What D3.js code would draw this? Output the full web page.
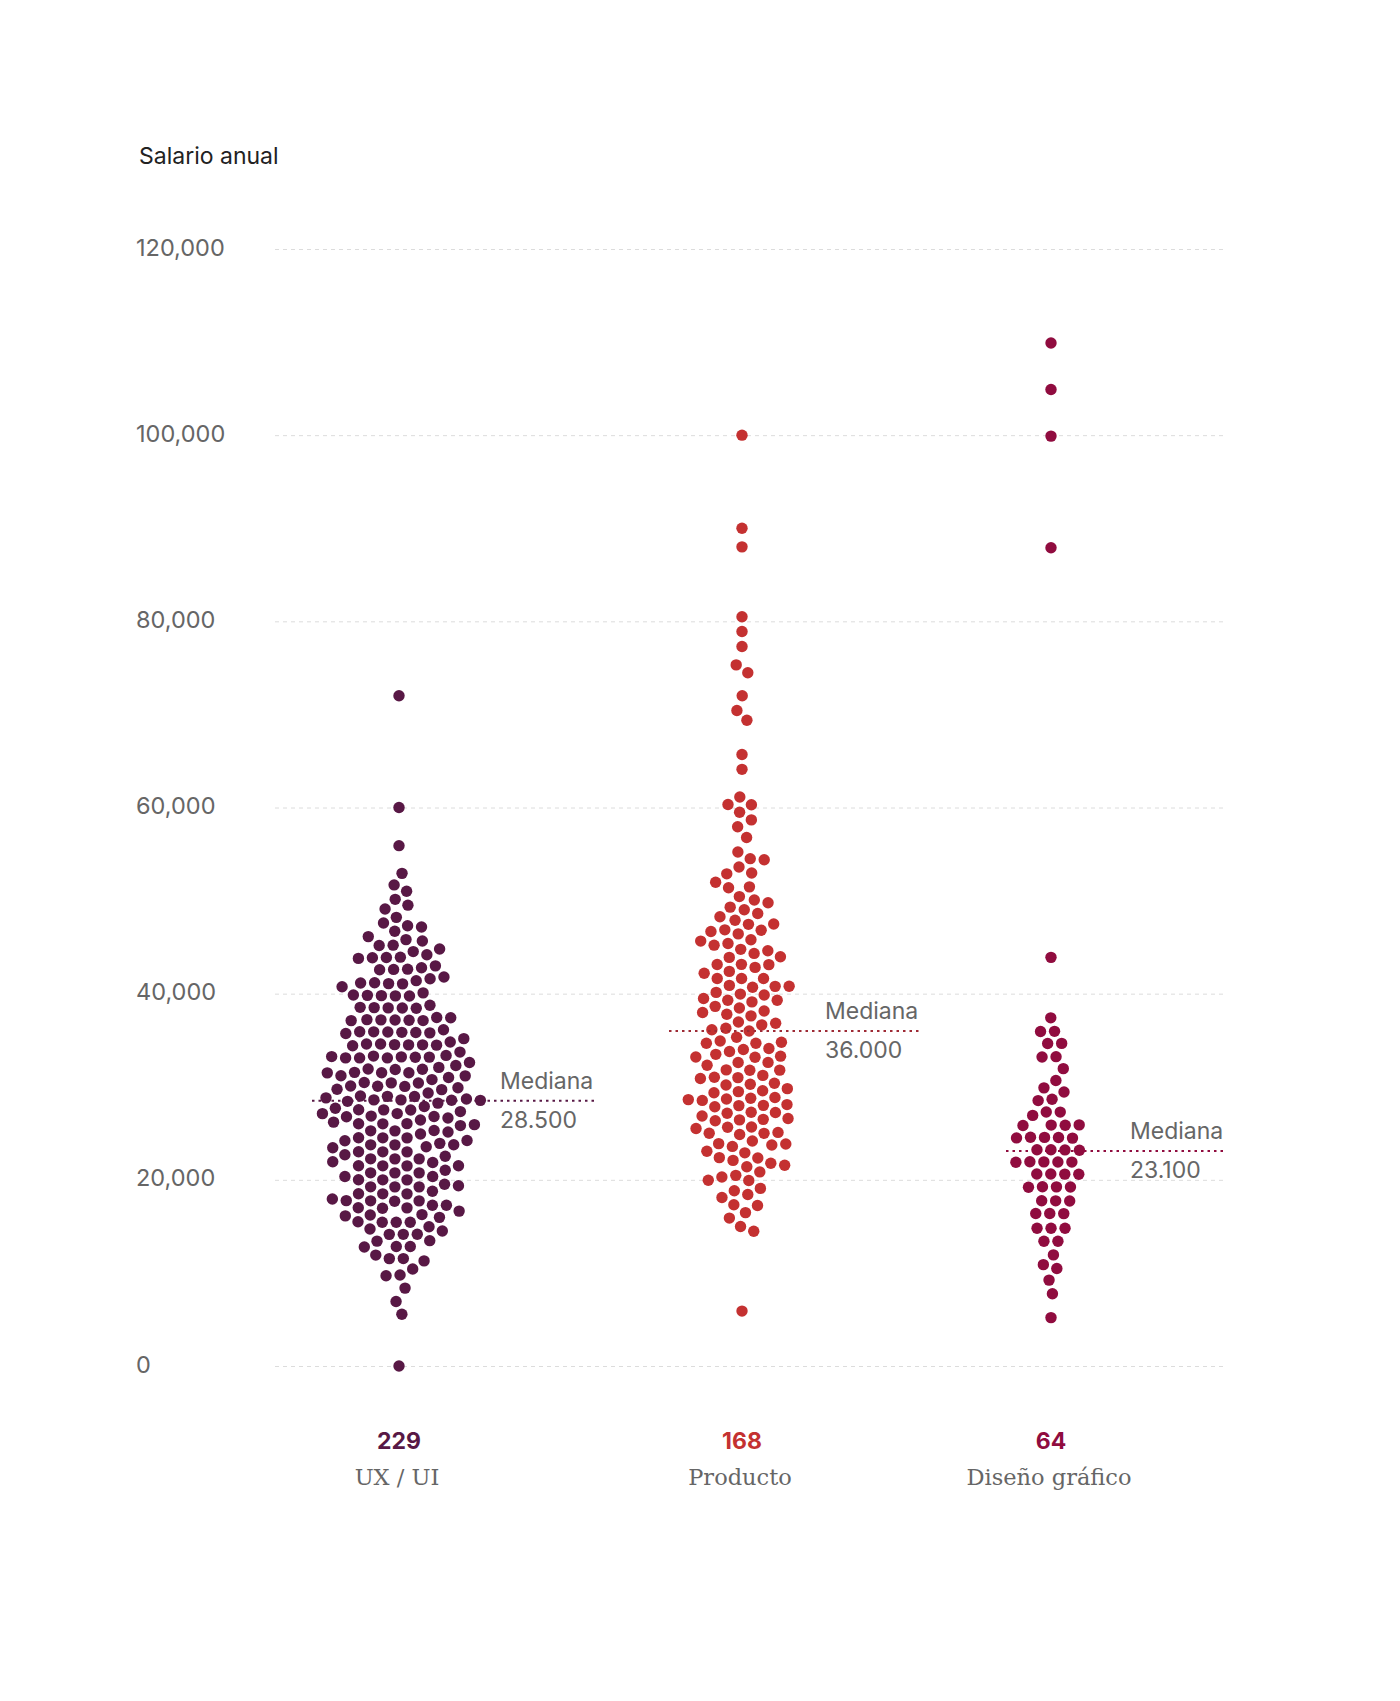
<!DOCTYPE html>
<html><head><meta charset="utf-8">
<script src="https://cdn.jsdelivr.net/npm/d3@7"></script>
<style>body{margin:0;background:#fff} svg{display:block}</style>
</head><body><svg id="chart" width="1400" height="1701"></svg>
<script>
// ---------- DATA ----------
const categories = ["UX / UI", "Producto", "Diseño gráfico"];
const counts = [229, 168, 64];
const medians = [28500, 36000, 23100];
const medianLabels = ["28.500", "36.000", "23.100"];
const yTicks = [0, 20000, 40000, 60000, 80000, 100000, 120000];
const yTitle = "Salario anual";

const uxValues = [
72000,60000,55900,52900,51700,50800,50100,49700,49100,48000,47600,47200,46900,46500,46000,
45800,45800,45300,45000,44700,44500,44200,44200,43800,43700,43400,43100,43100,42700,42700,
42400,42000,41800,41600,41300,41100,40800,40500,40500,40100,40100,39700,39700,39300,39000,
39000,38600,38600,38200,38200,37900,37500,37500,37300,37000,37000,37000,36700,36700,36300,
35900,35900,35600,35600,35600,35300,35300,34800,34500,34500,34500,34300,34300,34000,34000,
33800,33800,33400,33200,33200,33000,33000,32900,32900,32700,32700,32300,32300,32200,31900,
31700,31400,31300,31300,31100,31100,31100,30900,30900,30900,30500,30200,29900,29900,29800,
29800,29800,29800,29700,29700,29700,29000,28800,28600,28600,28500,28500,28500,28500,28500,
28200,28200,28200,27700,27400,
27100,27100,27100,27100,27100,27100,27100,27100,26400,26400,
25900,25900,25900,25900,25900,25900,25900,25300,25300,24900,24900,24500,24500,24500,24500,
24100,24100,23900,23500,23500,23500,23000,23000,23000,23000,23000,22500,22500,22500,21800,
21700,21700,21700,21700,21400,21400,21000,21000,21000,20700,20300,20300,20300,20000,19900,
19400,19400,19400,19400,18900,18900,18900,18400,18400,18100,17900,17900,17900,17400,17400,
17300,16900,16900,16800,16300,16300,16100,16000,15900,15300,15300,15100,14900,14900,14800,
14300,14300,13800,13800,13300,13300,12800,12800,12300,11800,11800,11200,10700,9700,9700,
8450,6900,5600,0
];

const productoValues = [
100000,90000,88000,80500,78900,77300,75300,74500,72000,70400,69400,65700,64100,
61100,60300,60300,59500,58700,57900,56800,55200,54400,54400,53600,52900,52900,52000,51300,51300,
50500,49800,49800,49100,48800,48800,48300,48300,47400,47400,46800,46200,46200,46500,45800,
45600,45600,44900,44700,44700,44300,44000,44000,43300,43100,43100,42700,42500,42100,41800,
41500,41500,41100,40800,40600,40600,40200,40000,40000,39700,39200,39000,39000,38700,
38400,38400,38400,37700,37700,37100,36800,36800,35900,35900,35900,35200,35200,34700,34700,
34300,34300,33800,33800,33400,33400,33000,33000,32700,32700,32200,32200,31800,31800,31300,
31300,30900,30600,30600,30200,30200,29900,29600,29600,29100,29100,28900,28600,28600,28400,
28000,28000,27800,27800,27500,27100,27100,26900,26600,26600,26200,26200,25900,25600,25600,
25300,25000,25000,24700,24300,24100,24100,23700,23500,23100,22800,22800,22500,22100,21800,
21600,21200,21200,20600,20300,20000,19700,19100,18700,18500,18100,17500,17200,16600,15900,
15000,14500,5900
];

const disenoValues = [
109900,104900,99900,87900,43900,
37400,35900,35900,34700,34700,33200,33200,31900,30700,29800,29400,28600,28600,
27200,27200,26900,25900,25900,25900,25600,24600,24600,24600,24600,24100,
23300,23300,23300,23300,21900,21900,21900,21900,21900,20700,20700,20700,20700,
19200,19200,19200,19200,17800,17800,17800,16400,16400,16400,14800,14800,14800,
13400,13400,11900,10900,10500,9200,7800,5200
];

const seriesValues = [uxValues, productoValues, disenoValues];

// ---------- STYLE / LAYOUT ----------
const colors = ["#581845", "#c43131", "#900c3f"];
const lineColors = ["#581845", "#9e2a35", "#900c3f"];
const sans = "Inter, 'Noto Sans', sans-serif";
const serif = "'DejaVu Serif', serif";
const dotR = 5.7, collideR = 7.0;
const medLayout = [
  {lineStart: -87, text: 101},
  {lineStart: -73, text: 83},
  {lineStart: -45, text: 79}
];

const svg = d3.select("#chart");
const y = d3.scaleLinear().domain([0, 120000]).range([1366, 249]);
const x = d3.scaleOrdinal().domain(categories).range([399, 742, 1051]);

svg.append("text").attr("x", 139).attr("y", 164)
  .attr("font-family", sans).attr("font-size", 23).attr("fill", "#222")
  .text(yTitle);

const gridLeft = 275, gridRight = 1225;
const axis = svg.append("g").attr("transform", `translate(${gridLeft},0)`)
  .call(d3.axisLeft(y).tickValues(yTicks).tickSize(-(gridRight - gridLeft))
        .tickFormat(d3.format(",")));
axis.select(".domain").remove();
axis.selectAll(".tick line").attr("stroke", "#dcdcdc").attr("stroke-width", 1)
  .attr("stroke-dasharray", "4,4");
axis.selectAll(".tick text").attr("x", 136 - gridLeft).attr("text-anchor", "start")
  .attr("dy", "0.26em")
  .attr("font-family", sans).attr("font-size", 23.5).attr("fill", "#666");

categories.forEach((cat, i) => {
  const cx = x(cat);
  const nodes = seriesValues[i].map(v => ({value: v, x: cx, y: y(v)}));
  const sim = d3.forceSimulation(nodes)
    .force("x", d3.forceX(cx).strength(0.05))
    .force("y", d3.forceY(d => y(d.value)).strength(1))
    .force("collide", d3.forceCollide(collideR).iterations(4))
    .stop();
  for (let k = 0; k < 400; k++) sim.tick();

  svg.append("g").selectAll("circle").data(nodes).join("circle")
    .attr("cx", d => d.x).attr("cy", d => d.y).attr("r", dotR)
    .attr("fill", colors[i]);

  const my = y(medians[i]);
  const L = medLayout[i];
  svg.append("line")
    .attr("x1", cx + L.lineStart).attr("x2", cx + L.text + 95)
    .attr("y1", my).attr("y2", my)
    .attr("stroke", lineColors[i]).attr("stroke-width", 2)
    .attr("stroke-dasharray", "2.5,4");
  svg.append("text").attr("x", cx + L.text).attr("y", my - 12)
    .attr("font-family", sans).attr("font-size", 23).attr("fill", "#666")
    .text("Mediana");
  svg.append("text").attr("x", cx + L.text).attr("y", my + 27)
    .attr("font-family", sans).attr("font-size", 23).attr("fill", "#666")
    .text(medianLabels[i]);

  svg.append("text").attr("x", cx).attr("y", 1449).attr("text-anchor", "middle")
    .attr("font-family", sans).attr("font-size", 23).attr("font-weight", 700)
    .attr("fill", colors[i]).text(counts[i]);
  svg.append("text").attr("x", cx - 2).attr("y", 1485).attr("text-anchor", "middle")
    .attr("font-family", serif).attr("font-size", 22.5).attr("fill", "#666")
    .text(cat);
});
</script></body></html>
